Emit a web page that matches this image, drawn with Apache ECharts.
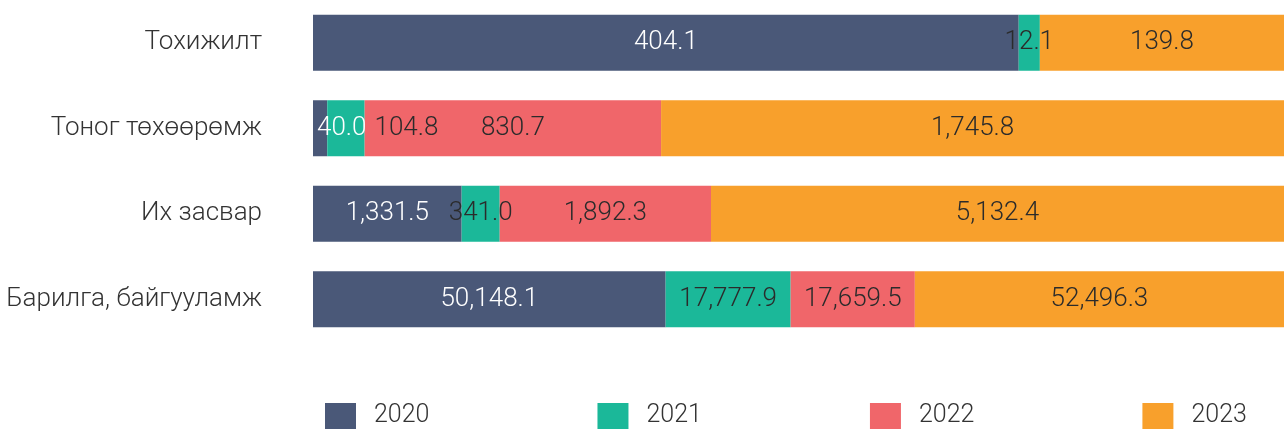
<!DOCTYPE html>
<html>
<head>
<meta charset="utf-8">
<script src="https://cdn.jsdelivr.net/npm/echarts@6/dist/echarts.min.js"></script>
<style>
  html, body { margin: 0; padding: 0; background: #fff; }
  #chart { width: 1284px; height: 429px; }
</style>
</head>
<body>
<div id="chart"></div>
<script>
// Investment by type, per year (values as labelled on each segment)
const categories = ['Тохижилт', 'Тоног төхөөрөмж', 'Их засвар', 'Барилга, байгууламж'];
const years = ['2020', '2021', '2022', '2023'];
const v2020 = [404.1, 40.0, 1331.5, 50148.1];
const v2021 = [12.1, 104.8, 341.0, 17777.9];
const v2022 = [null, 830.7, 1892.3, 17659.5];
const v2023 = [139.8, 1745.8, 5132.4, 52496.3];

const valuesByYear = [v2020, v2021, v2022, v2023];
const colors = ['#4a5878', '#1bb899', '#f0666a', '#f8a02c'];
const labelColors = ['#ffffff', '#2b2b2b', '#2b2b2b', '#2b2b2b'];
const FONT = 'Roboto, "Noto Sans", sans-serif';
const FONT_SIZE = 26;

// Row totals: each bar is the share of its row total (100% stack)
const rowTotals = categories.map((_, i) =>
  valuesByYear.reduce((s, arr) => s + (arr[i] || 0), 0));

const fmt = v => v.toLocaleString('en-US', { minimumFractionDigits: 1, maximumFractionDigits: 1 });

// Keep labels of a row from running into each other or past the bar start:
// walk the segments left to right and push a label right when needed.
const GAP = 8;
const rowCursor = {};
function avoidOverlap(params) {
  const row = params.dataIndex;
  if (params.seriesIndex === 0) rowCursor[row] = params.rect.x + 4;
  const lr = params.labelRect;
  const minX = rowCursor[row];
  let dx = 0;
  if (lr.x < minX) dx = minX - lr.x;
  rowCursor[row] = lr.x + dx + lr.width + GAP;
  return { dx: dx };
}

const series = years.map((yr, k) => ({
  name: yr,
  type: 'bar',
  stack: 'total',
  barWidth: 56,
  itemStyle: { color: colors[k] },
  label: {
    show: true,
    position: 'inside',
    color: labelColors[k],
    fontFamily: FONT,
    fontWeight: 300,
    fontSize: FONT_SIZE,
    formatter: p => (p.data && p.data.raw != null ? fmt(p.data.raw) : '')
  },
  labelLayout: avoidOverlap,
  data: valuesByYear[k].map((v, i) =>
    v == null ? { value: null, raw: null } : { value: v / rowTotals[i] * 100, raw: v })
}));

const chart = echarts.init(document.getElementById('chart'), null, { renderer: 'canvas' });
chart.setOption({
  animation: false,
  backgroundColor: '#ffffff',
  grid: { left: 313, right: 0, top: 0, height: 342, containLabel: false },
  xAxis: {
    type: 'value', min: 0, max: 100, show: false
  },
  yAxis: {
    type: 'category',
    data: categories,
    inverse: true,
    axisLine: { show: false },
    axisTick: { show: false },
    splitLine: { show: false },
    axisLabel: {
      margin: 51,
      color: '#333333',
      fontFamily: FONT,
      fontWeight: 300,
      fontSize: FONT_SIZE
    }
  },
  legend: {
    data: years,
    left: 325,
    top: 403,
    padding: 0,
    itemWidth: 31,
    itemHeight: 26,
    itemGap: 168,
    icon: 'rect',
    textStyle: {
      color: '#333333',
      fontFamily: FONT,
      fontWeight: 300,
      fontSize: 25,
      padding: [0, 0, 0, 13]
    }
  },
  series: series
});
</script>
</body>
</html>
